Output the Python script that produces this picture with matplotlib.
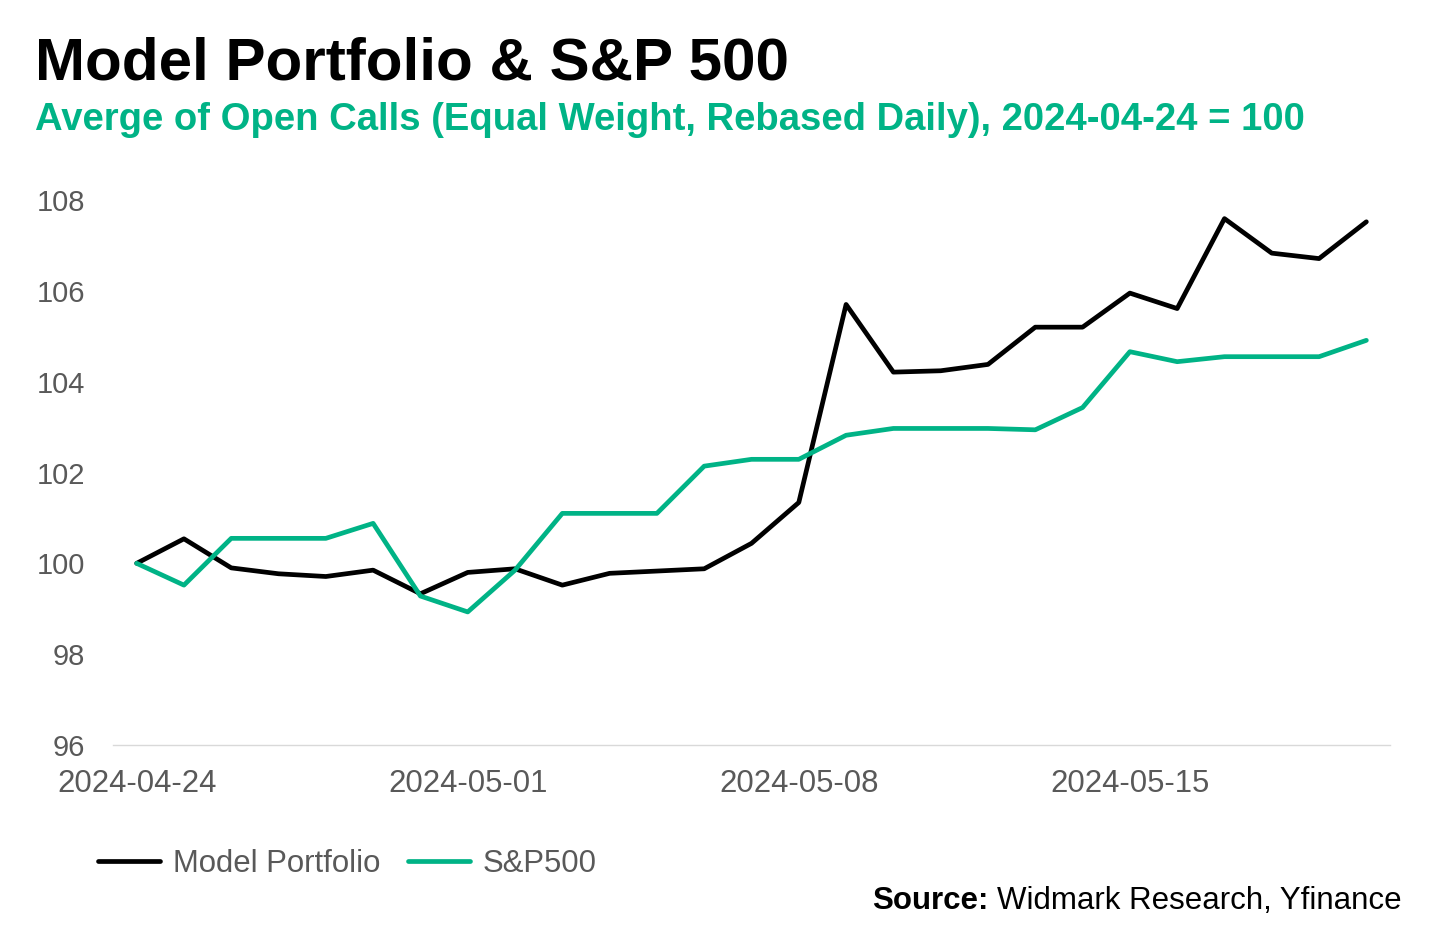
import pandas as pd
import matplotlib.pyplot as plt
import matplotlib.dates as mdates

plt.rcParams['font.family'] = ['Liberation Sans', 'DejaVu Sans']

dates = pd.date_range('2024-04-24', '2024-05-20', freq='D')

model = [100.0, 100.54, 99.90, 99.77, 99.71, 99.85, 99.33, 99.80, 99.88, 99.52,
         99.78, 99.83, 99.88, 100.44, 101.34, 105.70, 104.21, 104.24, 104.38,
         105.20, 105.20, 105.95, 105.61, 107.59, 106.83, 106.71, 107.52]
spx = [100.0, 99.52, 100.55, 100.55, 100.55, 100.88, 99.28, 98.93, 99.85, 101.10,
       101.10, 101.10, 102.14, 102.29, 102.29, 102.82, 102.97, 102.97, 102.97,
       102.94, 103.43, 104.66, 104.44, 104.55, 104.55, 104.55, 104.91]

GREEN = '#00b386'
GREY = '#595959'

fig = plt.figure(figsize=(14.56, 9.35), dpi=100)
ax = fig.add_axes([113 / 1456, 1 - 745 / 935, (1390 - 113) / 1456, (745 - 200) / 935])

ax.plot(dates, model, color='black', lw=3.4, label='Model Portfolio', solid_capstyle='round')
ax.plot(dates, spx, color=GREEN, lw=3.4, label='S&P500', solid_capstyle='round')

ax.set_ylim(96, 108)
ax.set_yticks(range(96, 109, 2))
ax.set_xlim(dates[0] - pd.Timedelta(hours=12), dates[-1] + pd.Timedelta(hours=12))
ax.set_xticks(dates[::7])
ax.xaxis.set_major_formatter(mdates.DateFormatter('%Y-%m-%d'))

for s in ['top', 'right', 'left']:
    ax.spines[s].set_visible(False)
ax.spines['bottom'].set_color('#d9d9d9')
ax.spines['bottom'].set_linewidth(1)
ax.tick_params(axis='both', length=0, labelcolor=GREY)
ax.tick_params(axis='y', pad=20, labelsize=21)
ax.tick_params(axis='x', pad=17, labelsize=22.4)

fig.text(35 / 1456, 1 - 64 / 935, 'Model Portfolio & S&P 500', fontsize=43.3,
         fontweight='bold', color='black', va='center')
fig.text(35 / 1456, 1 - 120 / 935, 'Averge of Open Calls (Equal Weight, Rebased Daily), 2024-04-24 = 100',
         fontsize=27.5, fontweight='bold', color=GREEN, va='center')

leg = ax.legend(loc='center left', bbox_to_anchor=(70 / 1456, 1 - 864 / 935),
                bbox_transform=fig.transFigure, ncol=2, frameon=False, fontsize=22.4,
                handlelength=2.0, handletextpad=0.4, columnspacing=0.9)
for t in leg.get_texts():
    t.set_color(GREY)

r = fig.canvas.get_renderer()
src = fig.text(1402 / 1456, 1 - 901 / 935, 'Widmark Research, Yfinance', fontsize=22.5,
               color='black', ha='right', va='center')
bb = src.get_window_extent(renderer=r)
fig.text(bb.x0 / fig.bbox.width - 0.006, 1 - 901 / 935, 'Source:', fontsize=22.5,
         fontweight='bold', color='black', ha='right', va='center')

fig.savefig('out.png', dpi=100)
